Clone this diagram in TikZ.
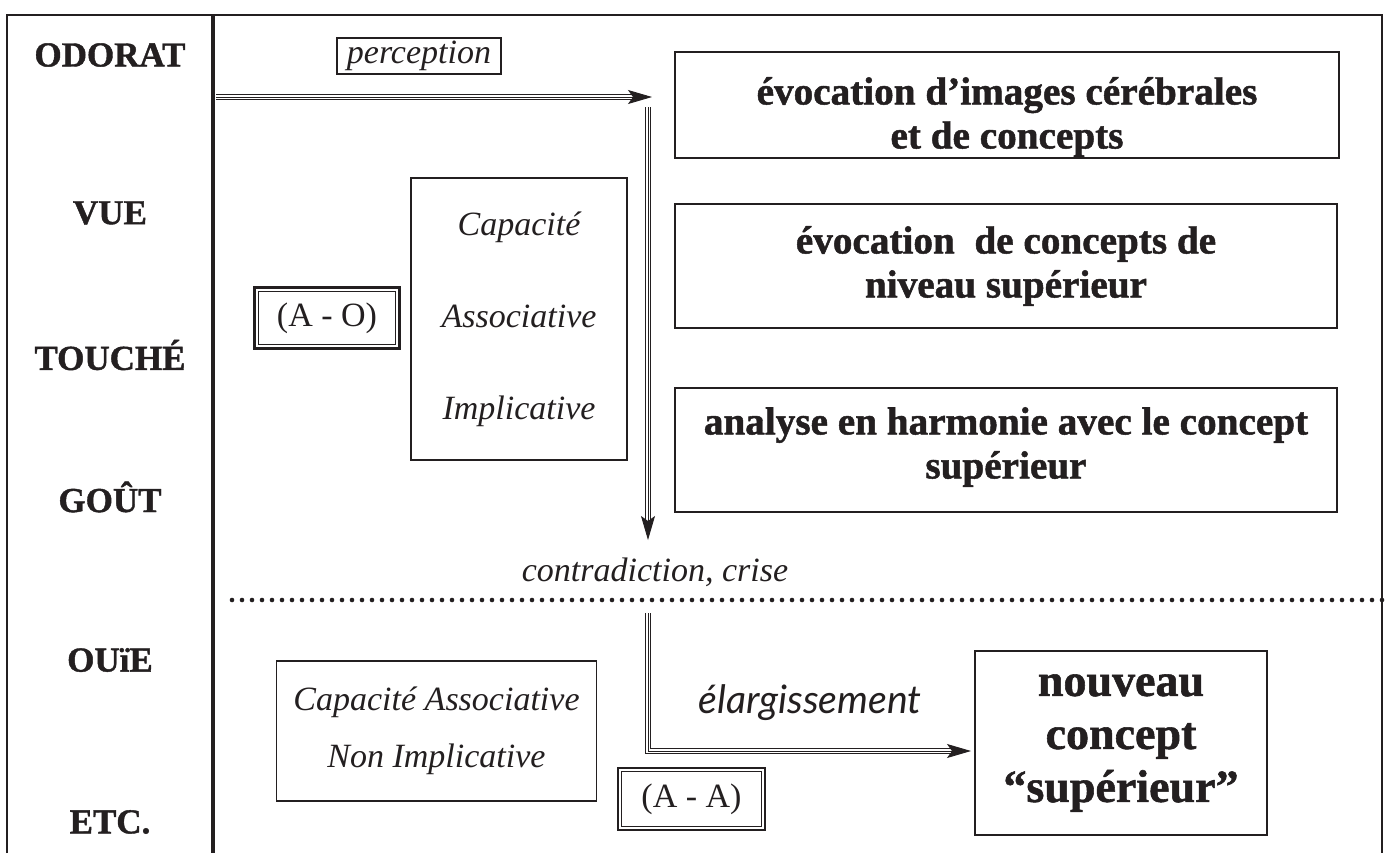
\documentclass[tikz,border=0pt]{standalone}
\usepackage{fontspec}
\setmainfont{Liberation Serif}[BoldFeatures={FakeBold=1.2}]
\newfontfamily\humanist{Lato}
\usetikzlibrary{arrows.meta,calc}
\definecolor{ink}{RGB}{35,31,32}

\begin{document}
\begin{tikzpicture}[x=0.5pt,y=-0.5pt,
  frame/.style={draw=ink,line width=1.1pt},
  divider/.style={draw=ink,line width=2.2pt},
  sense/.style={text=ink,font=\fontsize{17.5}{20}\selectfont\bfseries},
  bigbox/.style={draw=ink,line width=1.3pt,inner sep=0pt},
  boxtext/.style={text=ink,align=center,inner sep=0pt,
    font=\fontsize{19.6}{22}\selectfont\bfseries},
  thinbox/.style={draw=ink,line width=0.8pt,text=ink,align=center,inner sep=0pt},
  itl/.style={text=ink,font=\fontsize{17}{20}\selectfont\itshape},
  pairbox/.style={draw=ink,line width=1.4pt,text=ink,inner sep=0pt,
    minimum width=72.5pt,minimum height=30.5pt,font=\fontsize{17}{20}\selectfont},
  innerline/.style={draw=ink,line width=0.45pt},
  shaft/.style={draw=ink,line width=0.5pt,double=white,double distance=2pt,shorten >=9pt},
  core/.style={draw=ink,line width=0.45pt,-{Stealth[length=12pt,width=7pt,inset=2.5pt]}},
  dotline/.style={draw=ink,line width=2.3pt,line cap=round,dash pattern=on 0pt off 5pt}
]
\useasboundingbox (0,0) rectangle (1388,853);
\fill[white] (0,0) rectangle (1388,853);

% outer frame, open at the bottom, and the column divider
\draw[frame] (7,853) -- (7,15) -- (1382,15) -- (1382,853);
\draw[divider] (213,15) -- (213,853);

% the senses
\node[sense] (odorat) at (110,55)  {ODORAT};
\node[sense] (vue)    at (110,213) {VUE};
\node[sense] (touche) at (110,355) {TOUCHÉ};
\node[sense] (gout)   at (110,497) {GOÛT};
\node[sense] (ouie)   at (110,660) {OUïE};
\node[sense] (etc)    at (110,822) {ETC.};

% upper part: perception and associative/implicative capacity
\node[thinbox,line width=0.6pt,minimum width=82pt,minimum height=18pt,
      font=\fontsize{17}{20}\selectfont\itshape] (perc) at (419,56) {perception};

\node[bigbox,minimum width=332pt,minimum height=53pt] (b1) at (1007,105) {};
\node[boxtext] (b1t) at (1007,117) {évocation d’images cérébrales\\et de concepts};
\node[bigbox,minimum width=331pt,minimum height=62pt] (b2) at (1006,266) {};
\node[boxtext] (b2t) at (1006,266) {évocation~ de concepts de\\niveau supérieur};
\node[bigbox,minimum width=331pt,minimum height=62pt] (b3) at (1006,450) {};
\node[boxtext] (b3t) at (1006,447) {analyse en harmonie avec le concept\\supérieur};

\node[thinbox,minimum width=108pt,minimum height=141pt,
      font=\fontsize{17}{46}\selectfont\itshape] (cap) at (519,319)
  {Capacité\\Associative\\Implicative};

\node[pairbox] (ao) at (327,318) {(A - O)};
\draw[innerline] ([shift={(2.6pt,-2.6pt)}]ao.north west) rectangle ([shift={(-2.6pt,2.6pt)}]ao.south east);

% perception arrow and descent to the crisis
\coordinate (p1) at (216,97);
\coordinate (p2) at (652,97);
\draw[shaft] (p1) -- (p2);
\draw[core]  (p1) -- (p2);

\coordinate (v1) at (648,107);
\coordinate (v2) at (648,540);
\draw[shaft] (v1) -- (v2);
\draw[core]  (v1) -- (v2);

\node[itl] (crise) at (655,572) {contradiction, crise};

% separation line
\coordinate (dl) at (232,600);
\coordinate (dr) at (1382,600);
\draw[dotline] (dl) -- (dr);

% lower part: widening towards a new concept
\node[thinbox,minimum width=160pt,minimum height=70pt,
      font=\fontsize{17}{28.5}\selectfont\itshape] (cap2) at (436.5,731)
  {Capacité Associative\\Non Implicative};

\node[pairbox,minimum width=73.5pt,minimum height=31pt] (aa) at (691.5,799) {(A - A)};
\draw[innerline] ([shift={(2.6pt,-2.6pt)}]aa.north west) rectangle ([shift={(-2.6pt,2.6pt)}]aa.south east);

\node[bigbox,minimum width=146pt,minimum height=92pt] (nouv) at (1121,743) {};
\node[boxtext,font=\fontsize{23}{26.5}\selectfont\bfseries] (nouvt) at (1121,743)
  {nouveau\\concept\\“supérieur”};

\coordinate (w1) at (648,613);
\coordinate (w2) at (971,751);
\draw[shaft] (w1) |- (w2);
\draw[core]  (w1) |- (w2);

\node[text=ink,font=\fontsize{19.6}{22}\selectfont\humanist\itshape] (elarg) at (810,703) {élargissement};
\end{tikzpicture}
\end{document}
